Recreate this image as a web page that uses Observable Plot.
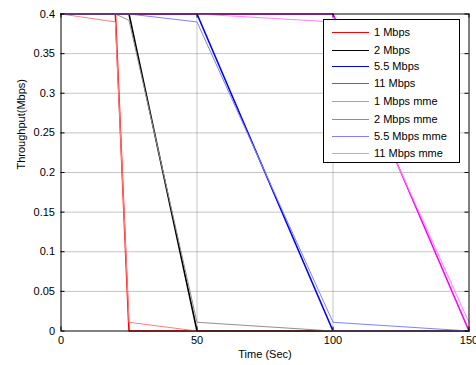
<!DOCTYPE html>
<html>
<head>
<meta charset="utf-8">
<script src="https://cdn.jsdelivr.net/npm/d3@7"></script>
<script src="https://cdn.jsdelivr.net/npm/@observablehq/plot@0.6"></script>
<style>
  html, body { margin: 0; padding: 0; background: #fff; }
  #wrap { position: relative; width: 476px; height: 365px; font-family: "Liberation Sans", Arial, sans-serif; }
  #legend { position: absolute; left: 323px; top: 19px; width: 135px; height: 142px; border: 1px solid #000; background: #fff; box-sizing: content-box; }
  .row { position: absolute; left: 0; height: 14px; font-size: 11px; line-height: 14px; color: #000; white-space: nowrap; }
  .row .sw { position: absolute; left: 8px; top: 6.5px; width: 37px; height: 0; border-top-style: solid; }
  .row .lb { position: absolute; left: 50px; top: 0; }
</style>
</head>
<body>
<div id="wrap"><div id="chart"></div><div id="legend"></div></div>
<script>
// Tick values
const xTicks = [0, 50, 100, 150];
const yTicks = [0, 0.05, 0.1, 0.15, 0.2, 0.25, 0.3, 0.35, 0.4];
const yTickLabels = ["0", "0.05", "0.1", "0.15", "0.2", "0.25", "0.3", "0.35", "0.4"];
const xGrid = [50, 100];
const yGrid = [0.05, 0.1, 0.15, 0.2, 0.25, 0.3, 0.35];

// Series names (legend order)
const seriesNames = ["1 Mbps", "2 Mbps", "5.5 Mbps", "11 Mbps", "1 Mbps mme", "2 Mbps mme", "5.5 Mbps mme", "11 Mbps mme"];

// Series time points (Sec) and throughput values (Mbps)
const t1 = [0, 20, 25, 150];
const v1 = [0.4, 0.4, 0, 0];
const t2 = [0, 25, 50, 150];
const v2 = [0.4, 0.4, 0, 0];
const t55 = [0, 50, 100, 150];
const v55 = [0.4, 0.4, 0, 0];
const t11 = [0, 100, 150];
const v11 = [0.4, 0.4, 0];
const t1m = [0, 20, 25, 50, 150];
const v1m = [0.4, 0.39, 0.011, 0, 0];
const t2m = [0, 20, 25, 50, 100, 150];
const v2m = [0.4, 0.4, 0.392, 0.011, 0, 0];
const t55m = [0, 25, 50, 100, 150];
const v55m = [0.4, 0.4, 0.39, 0.011, 0];
const t11m = [0, 50, 100, 150];
const v11m = [0.4, 0.4, 0.39, 0.011];

const styles = [
  {color: "#ff0000", width: 1.6},
  {color: "#000000", width: 1.6},
  {color: "#0000ff", width: 1.6},
  {color: "#ff00ff", width: 1.6},
  {color: "#ff8080", width: 1},
  {color: "#909090", width: 1},
  {color: "#8080ff", width: 1},
  {color: "#ff80ff", width: 1}
];
const seriesT = [t1, t2, t55, t11, t1m, t2m, t55m, t11m];
const seriesV = [v1, v2, v55, v11, v1m, v2m, v55m, v11m];

const W = 476, H = 365, mL = 60.5, mR = 7.5, mT = 13.5, mB = 34.5;
const plotW = W - mL - mR, plotH = H - mT - mB;
const tick = 4;

const lineMarks = seriesNames.map((name, i) =>
  Plot.line(seriesT[i].map((t, j) => ({t, v: seriesV[i][j]})), {
    x: "t", y: "v", stroke: styles[i].color, strokeWidth: styles[i].width
  })
);

const chart = Plot.plot({
  width: W, height: H,
  marginLeft: mL, marginRight: mR, marginTop: mT, marginBottom: mB,
  style: {fontFamily: '"Liberation Sans", Arial, sans-serif', fontSize: "11px", background: "#fff", color: "#000"},
  x: {domain: [0, 150]},
  y: {domain: [0, 0.4]},
  marks: [
    Plot.ruleY(yGrid, {y: d => d, stroke: "#8a8a8a", strokeWidth: 1, strokeDasharray: "1,1"}),
    Plot.ruleX(xGrid, {x: d => d, stroke: "#8a8a8a", strokeWidth: 1, strokeDasharray: "1,1"}),
    ...lineMarks,
    Plot.tickY(yTicks, {y: d => d, insetRight: plotW - tick, stroke: "#000"}),
    Plot.tickY(yTicks, {y: d => d, insetLeft: plotW - tick, stroke: "#000"}),
    Plot.tickX(xTicks, {x: d => d, insetTop: plotH - tick, stroke: "#000"}),
    Plot.tickX(xTicks, {x: d => d, insetBottom: plotH - tick, stroke: "#000"}),
    Plot.frame({stroke: "#000", strokeWidth: 1}),
    Plot.axisX(xTicks, {tickSize: 0, tickPadding: 5, label: null, fontSize: 11}),
    Plot.axisY(yTicks, {tickSize: 0, tickPadding: 6, label: null, fontSize: 11,
      tickFormat: (d, i) => yTickLabels[yTicks.indexOf(d)]}),
    Plot.text(["Time (Sec)"], {frameAnchor: "bottom", text: d => d, dy: 27, fontSize: 11}),
    Plot.text(["Throughput(Mbps)"], {frameAnchor: "left", text: d => d, dx: -40, dy: -3, rotate: -90, fontSize: 11})
  ]
});
document.getElementById("chart").appendChild(chart);

// Legend (drawn over the plot area, like the reference)
const rowTops = [5, 23, 39, 56, 74, 92, 109, 126];
const legend = document.getElementById("legend");
seriesNames.forEach((name, i) => {
  const row = document.createElement("div");
  row.className = "row";
  row.style.top = rowTops[i] + "px";
  const sw = document.createElement("div");
  sw.className = "sw";
  sw.style.borderTopColor = styles[i].color;
  sw.style.borderTopWidth = (i < 4 ? 1.5 : 1) + "px";
  const lb = document.createElement("div");
  lb.className = "lb";
  lb.textContent = name;
  row.appendChild(sw);
  row.appendChild(lb);
  legend.appendChild(row);
});
</script>
</body>
</html>
